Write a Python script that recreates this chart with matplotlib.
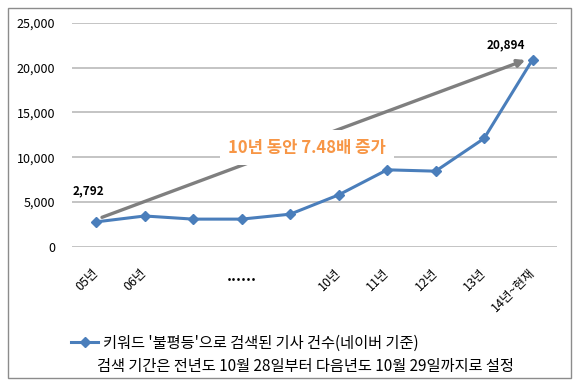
import matplotlib
matplotlib.use('Agg')
import matplotlib.pyplot as plt
from matplotlib.lines import Line2D
from matplotlib.patches import Rectangle

plt.rcParams['font.family'] = ['Noto Sans CJK KR', 'DejaVu Sans']

# data
years = ['05년', '06년', '', '', '', '10년', '11년', '12년', '13년', '14년~현재']
counts = [2792, 3450, 3100, 3100, 3650, 5800, 8600, 8450, 12100, 20894]
yticks = [0, 5000, 10000, 15000, 20000, 25000]
line_label = "키워드 '불평등'으로 검색된 기사 건수(네이버 기준)"
note = '검색 기간은 전년도 10월 28일부터 다음년도 10월 29일까지로 설정'
trend_text = '10년 동안 7.48배 증가'

blue = '#4A7EBB'
orange = '#F79646'

fig = plt.figure(figsize=(5.8, 3.87), dpi=100)
ax = fig.add_axes([0.124, 0.362, 0.836, 0.579])

x = list(range(len(counts)))
ax.plot(x, counts, color=blue, lw=2.2, marker='D', ms=5, zorder=4)

ax.set_xlim(-0.5, len(counts) - 0.5)
ax.set_ylim(0, 25000)
ax.set_yticks(yticks)
ax.set_yticklabels([f'{v:,}' for v in yticks], fontsize=9)
ax.yaxis.grid(True, color='#BFBFBF', lw=1.3)
ax.set_axisbelow(True)
ax.tick_params(axis='y', length=0, pad=12)
ax.tick_params(axis='x', length=0, pad=17)
ax.set_xticks(x)
ax.set_xticklabels(years, fontsize=9, rotation=45, ha='right', va='center',
                   rotation_mode='anchor')
for s in ax.spines.values():
    s.set_visible(False)

ax.text(3, -0.13, '......', transform=ax.get_xaxis_transform(), ha='center',
        va='center', fontsize=11, fontweight='bold')

# value labels at both ends
ax.text(-0.15, 6200, f'{counts[0]:,}', ha='center', va='center', fontsize=8.5, fontweight='bold')
ax.text(8.45, 22600, f'{counts[-1]:,}', ha='center', va='center', fontsize=8.5, fontweight='bold')

# grey trend arrow with the orange caption over it
ax.annotate('', xy=(8.85, 20850), xytext=(0.12, 3300),
            arrowprops=dict(arrowstyle='-|>', color='#7F7F7F', lw=2.4,
                            mutation_scale=11, shrinkA=0, shrinkB=0), zorder=2)
ax.text(4.35, 11080, trend_text, ha='center', va='center', fontsize=12,
        fontweight='bold', color=orange, zorder=3,
        bbox=dict(facecolor='white', edgecolor='none', pad=6))

# legend and note
h = Line2D([], [], color=blue, lw=2.2, marker='D', ms=5)
fig.legend([h], [line_label], loc='center left', bbox_to_anchor=(0.122, 1 - 343 / 387),
           frameon=False, fontsize=11, handlelength=1.8, handletextpad=0.3,
           borderaxespad=0, borderpad=0)
fig.text(305 / 580, 1 - 367 / 387, note, ha='center', va='center', fontsize=11)

fig.patches.append(Rectangle((8 / 580, 1 - 378 / 387), 563 / 580, 370 / 387,
                             transform=fig.transFigure, fill=False,
                             edgecolor='#8C8C8C', lw=1))

fig.savefig('out.png', dpi=100)
